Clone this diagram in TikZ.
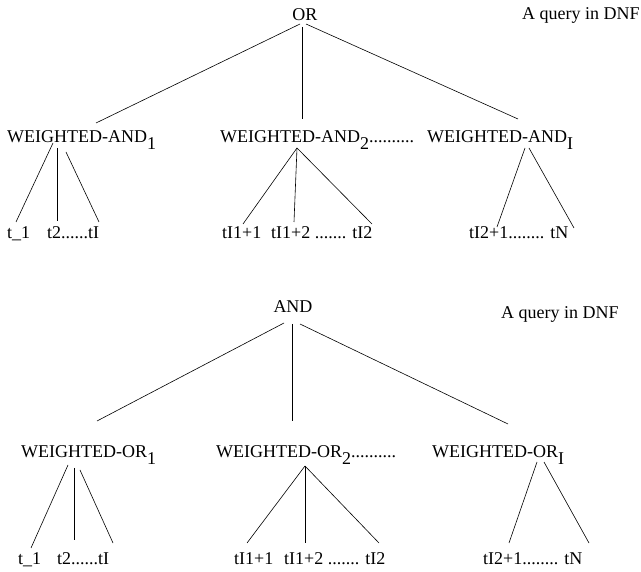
\documentclass[tikz,border=0pt]{standalone}
\usepackage{fontspec}
\setmainfont{Liberation Serif}
\newcommand{\lowsub}[1]{\raisebox{-7pt}{#1}}
\begin{document}
\begin{tikzpicture}[x=1pt,y=-1pt,
  lbl/.style={anchor=base west,inner sep=0pt,font=\fontsize{18}{20}\selectfont},
  lblc/.style={anchor=base,inner sep=0pt,font=\fontsize{18}{20}\selectfont},
  edge/.style={draw=black,line width=0.6pt}]
\useasboundingbox (0,0) rectangle (641,572);
% ---------- top tree ----------
\node[lblc] (or) at (305,21) {OR};
\node[lbl] (q1) at (522,20) {A query in DNF};
\node[lbl] (wa1) at (7,143) {WEIGHTED-AND\lowsub{1}};
\node[lbl] (wa2) at (220,143) {WEIGHTED-AND\lowsub{2}..........};
\node[lbl] (wai) at (427,143) {WEIGHTED-AND\lowsub{I}};
\node[lbl] (ta1) at (7,239) {t\_1};
\node[lbl] (ta2) at (47,239) {t2......tI};
\node[lbl] (ta3) at (222,239) {tI1+1};
\node[lbl] (ta4) at (271,239) {tI1+2 ....... tI2};
\node[lbl] (ta5) at (469,239) {tI2+1........ tN};
% connector ends
\coordinate (or1) at (300,24); \coordinate (wa1t) at (96,123);
\coordinate (or2) at (302,27); \coordinate (wa2t) at (302,119);
\coordinate (or3) at (306,24); \coordinate (wait) at (518,119);
\coordinate (wa1a) at (53,143); \coordinate (ta1t) at (16,222);
\coordinate (wa1b) at (57,148); \coordinate (ta2t) at (57,221);
\coordinate (wa1c) at (66,152); \coordinate (ta2u) at (99,222);
\coordinate (wa2a) at (297,148); \coordinate (ta3t) at (243,224);
\coordinate (ta4t) at (294,222); \coordinate (ta4u) at (372,224);
\coordinate (waia) at (525,148); \coordinate (ta5t) at (497,227);
\coordinate (waib) at (529,148); \coordinate (ta5u) at (574,228);
\draw[edge] (or1) -- (wa1t);
\draw[edge] (or2) -- (wa2t);
\draw[edge] (or3) -- (wait);
\draw[edge] (wa1a) -- (ta1t);
\draw[edge] (wa1b) -- (ta2t);
\draw[edge] (wa1c) -- (ta2u);
\draw[edge] (wa2a) -- (ta3t);
\draw[edge] (wa2a) -- (ta4t);
\draw[edge] (wa2a) -- (ta4u);
\draw[edge] (waia) -- (ta5t);
\draw[edge] (waib) -- (ta5u);
% ---------- bottom tree ----------
\node[lblc] (and) at (293,313) {AND};
\node[lbl] (q2) at (501,319) {A query in DNF};
\node[lbl] (wo1) at (21,458) {WEIGHTED-OR\lowsub{1}};
\node[lbl] (wo2) at (216,458) {WEIGHTED-OR\lowsub{2}..........};
\node[lbl] (woi) at (432,458) {WEIGHTED-OR\lowsub{I}};
\node[lbl] (tb1) at (18,565) {t\_1};
\node[lbl] (tb2) at (57,565) {t2......tI};
\node[lbl] (tb3) at (234,565) {tI1+1};
\node[lbl] (tb4) at (284,565) {tI1+2 ....... tI2};
\node[lbl] (tb5) at (483,565) {tI2+1........ tN};
\coordinate (and1) at (284,323); \coordinate (wo1t) at (97,421);
\coordinate (and2) at (292,324); \coordinate (wo2t) at (292,421);
\coordinate (and3) at (300,324); \coordinate (woit) at (508,424);
\coordinate (wo1a) at (68,465); \coordinate (tb1t) at (31,548);
\coordinate (wo1b) at (74,468); \coordinate (tb2t) at (74,540);
\coordinate (wo1c) at (80,470); \coordinate (tb2u) at (113,543);
\coordinate (wo2a) at (305,466); \coordinate (tb3t) at (247,543);
\coordinate (tb4t) at (305,543); \coordinate (tb4u) at (379,543);
\coordinate (woia) at (537,462); \coordinate (tb5t) at (509,543);
\coordinate (woib) at (544,462); \coordinate (tb5u) at (589,543);
\draw[edge] (and1) -- (wo1t);
\draw[edge] (and2) -- (wo2t);
\draw[edge] (and3) -- (woit);
\draw[edge] (wo1a) -- (tb1t);
\draw[edge] (wo1b) -- (tb2t);
\draw[edge] (wo1c) -- (tb2u);
\draw[edge] (wo2a) -- (tb3t);
\draw[edge] (wo2a) -- (tb4t);
\draw[edge] (wo2a) -- (tb4u);
\draw[edge] (woia) -- (tb5t);
\draw[edge] (woib) -- (tb5u);
\end{tikzpicture}
\end{document}
